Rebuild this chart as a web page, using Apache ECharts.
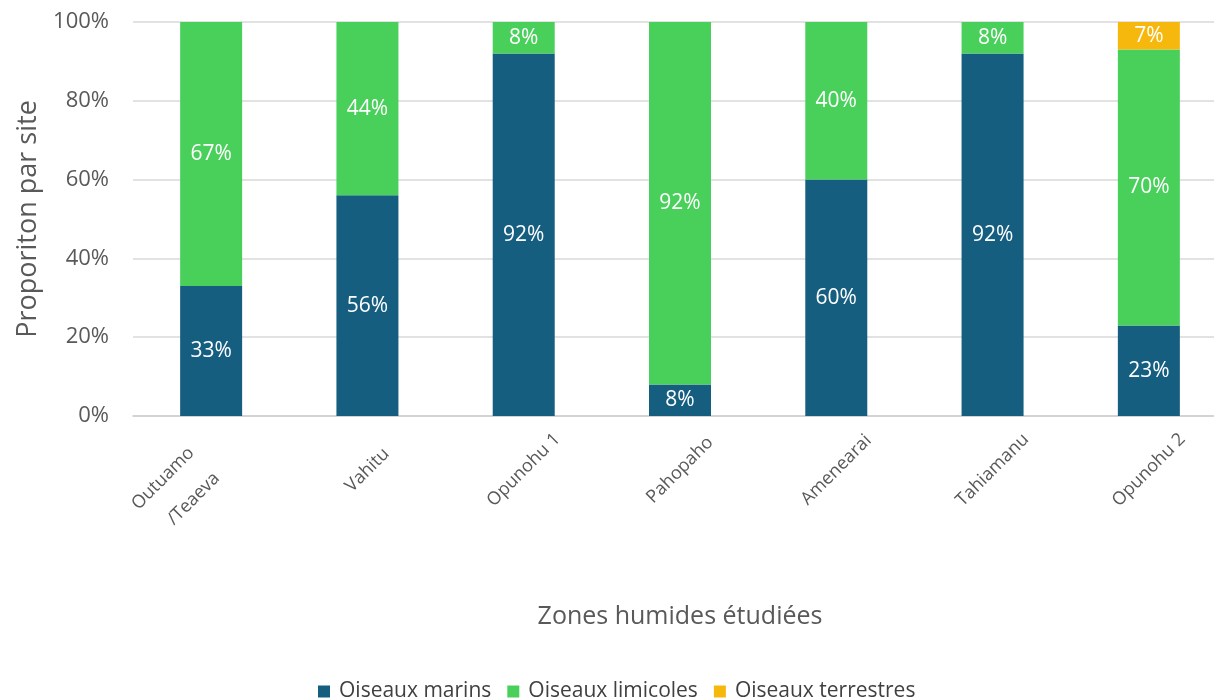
<!DOCTYPE html>
<html>
<head>
<meta charset="utf-8">
<script src="https://cdn.jsdelivr.net/npm/echarts@6/dist/echarts.min.js"></script>
<style>
html,body{margin:0;padding:0;background:#fff;overflow:hidden;width:1214px;height:698px;}
#chart{width:1227px;height:698px;}
</style>
</head>
<body>
<div id="chart"></div>
<script>
const categories = ['Outuamo\n/Teaeva', 'Vahitu', 'Opunohu 1', 'Pahopaho', 'Amenearai', 'Tahiamanu', 'Opunohu 2'];
const seriesNames = ['Oiseaux marins', 'Oiseaux limicoles', 'Oiseaux terrestres'];
const marins = [33, 56, 92, 8, 60, 92, 23];
const limicoles = [67, 44, 8, 92, 40, 8, 70];
const terrestres = [0, 0, 0, 0, 0, 0, 7];
const yTicks = [0, 20, 40, 60, 80, 100];

const colors = ['#155E80', '#48D05B', '#F7B80E'];
const FONT = '"Open Sans", "Noto Sans", sans-serif';

function mkSeries(name, data, color) {
  return {
    name: name,
    type: 'bar',
    stack: 'total',
    barWidth: 62,
    data: data.map(v => v === 0 ? null : v),
    itemStyle: { color: color },
    label: {
      show: true,
      position: 'inside',
      formatter: p => p.value + '%',
      color: '#ffffff',
      fontFamily: FONT,
      fontSize: 21
    }
  };
}

const xData = categories.map((c, i) => i === 0
  ? { value: c, textStyle: { padding: [0, 0, 0, 12] } }
  : c);

const chart = echarts.init(document.getElementById('chart'), null, { renderer: 'canvas' });
chart.setOption({
  backgroundColor: '#ffffff',
  animation: false,
  textStyle: { fontFamily: FONT },
  grid: { left: 133, top: 22, right: 0, bottom: 282, containLabel: false },
  legend: {
    data: seriesNames,
    left: 313,
    top: 676,
    itemWidth: 12,
    itemHeight: 12,
    itemGap: 16,
    icon: 'rect',
    textStyle: { color: '#404040', fontSize: 21, fontFamily: FONT, padding: [0, 0, 0, 4] }
  },
  xAxis: {
    type: 'category',
    data: xData,
    axisLine: { lineStyle: { color: '#d0d0d0', width: 1.5 } },
    axisTick: { show: false },
    axisLabel: {
      rotate: 45,
      align: 'center',
      verticalAlign: 'middle',
      margin: 54,
      color: '#595959',
      fontSize: 18,
      lineHeight: 36,
      fontFamily: FONT,
      interval: 0,
      formatter: (v, i) => i === 0 ? v + '\n{s| }' : v,
      rich: { s: { lineHeight: 20, fontSize: 1 } }
    },
    name: 'Zones humides étudiées',
    nameLocation: 'middle',
    nameGap: 188,
    nameTextStyle: { color: '#595959', fontSize: 25, fontFamily: FONT }
  },
  yAxis: {
    type: 'value',
    min: yTicks[0],
    max: yTicks[yTicks.length - 1],
    interval: 20,
    axisLine: { show: false },
    axisTick: { show: false },
    splitLine: { lineStyle: { color: '#d9d9d9', width: 1.5 } },
    axisLabel: {
      formatter: '{value}%',
      color: '#595959',
      fontSize: 22,
      margin: 24,
      fontFamily: FONT
    },
    name: 'Proporiton par site',
    nameLocation: 'middle',
    nameGap: 88,
    nameTextStyle: { color: '#595959', fontSize: 27, fontFamily: FONT }
  },
  series: [
    mkSeries(seriesNames[0], marins, colors[0]),
    mkSeries(seriesNames[1], limicoles, colors[1]),
    mkSeries(seriesNames[2], terrestres, colors[2])
  ]
});
</script>
</body>
</html>
